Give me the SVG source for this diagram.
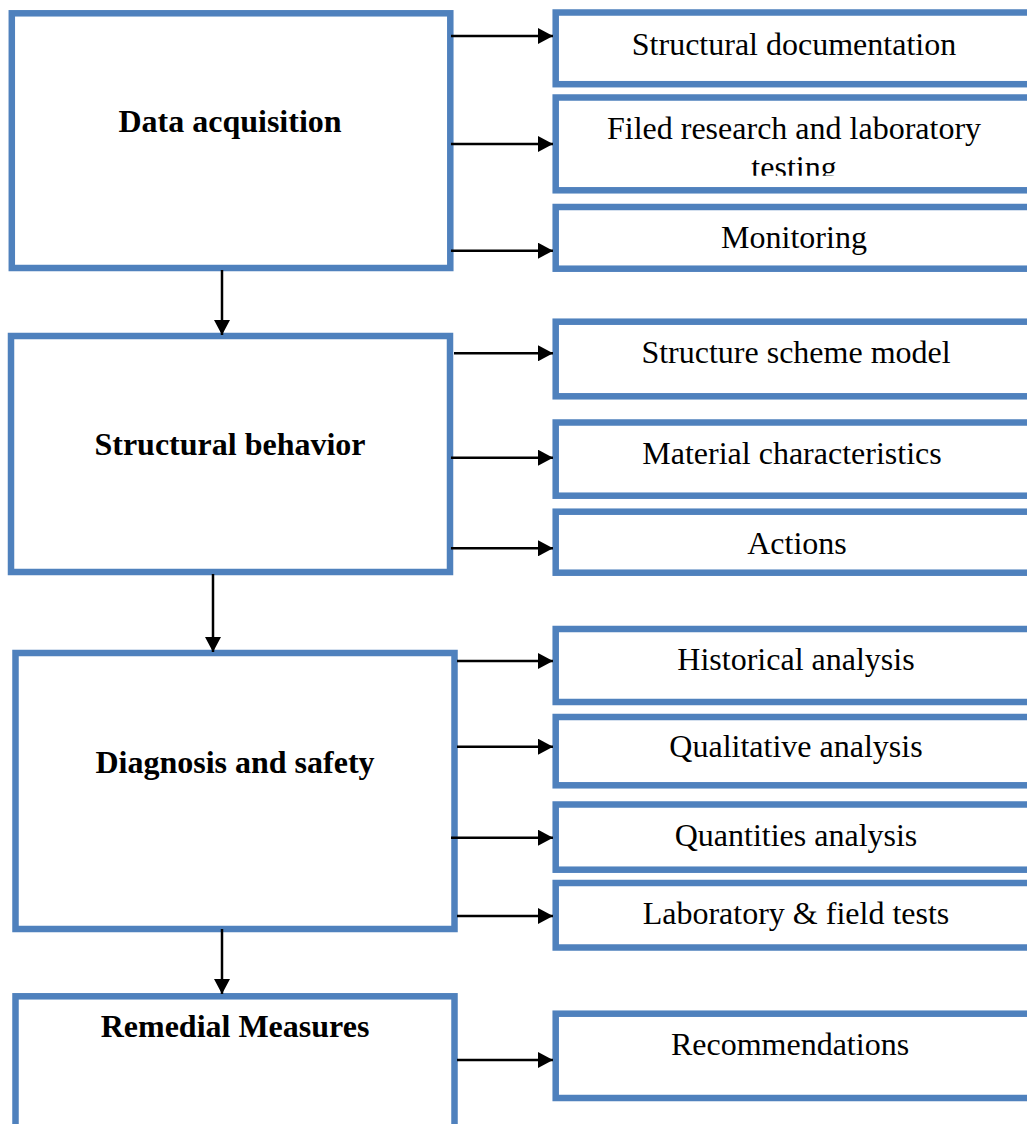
<svg xmlns="http://www.w3.org/2000/svg" width="1027" height="1124" viewBox="0 0 1027 1124">
<style>
.box{fill:#fff;stroke:#4F81BD;stroke-width:6.5}
.main{font-family:"Liberation Serif",serif;font-weight:bold;font-size:32px;text-anchor:middle;fill:#000}
.sub{font-family:"Liberation Serif",serif;font-size:32px;text-anchor:middle;fill:#000}
.conn{stroke:#000;stroke-width:2.5;fill:none;marker-end:url(#ah)}
</style>
<defs>
<marker id="ah" markerUnits="userSpaceOnUse" markerWidth="16" markerHeight="16" refX="15" refY="8" orient="auto">
<path d="M0,0 L15,8 L0,16 z" fill="#000"/>
</marker>
<clipPath id="clipR2"><rect x="560" y="100" width="470" height="75.7"/></clipPath>
</defs>
<rect width="1027" height="1124" fill="#fff"/>

<g id="n-data-acquisition">
<rect class="box" x="11.8" y="13.3" width="438.5" height="254.7"/>
<text class="main" x="230" y="132">Data acquisition</text>
</g>
<g id="n-structural-documentation">
<rect class="box" x="555.7" y="12.5" width="480" height="71.7"/>
<text class="sub" x="794" y="55">Structural documentation</text>
</g>
<g id="n-filed-research">
<rect class="box" x="555.7" y="97.5" width="480" height="92.8"/>
<g clip-path="url(#clipR2)">
<text class="sub" x="794" y="139.3">Filed research and laboratory</text>
<text class="sub" x="794" y="177.5">testing</text>
</g>
</g>
<g id="n-monitoring">
<rect class="box" x="555.7" y="207" width="480" height="61.7"/>
<text class="sub" x="794" y="248.3">Monitoring</text>
</g>

<g id="n-structural-behavior">
<rect class="box" x="11" y="336" width="439" height="236"/>
<text class="main" x="230" y="455">Structural behavior</text>
</g>
<g id="n-structure-scheme-model">
<rect class="box" x="555.7" y="321.7" width="480" height="74.6"/>
<text class="sub" x="796" y="363.3">Structure scheme model</text>
</g>
<g id="n-material-characteristics">
<rect class="box" x="555.7" y="422.5" width="480" height="73.2"/>
<text class="sub" x="792" y="464">Material characteristics</text>
</g>
<g id="n-actions">
<rect class="box" x="555.7" y="511.7" width="480" height="61"/>
<text class="sub" x="797" y="554">Actions</text>
</g>

<g id="n-diagnosis-and-safety">
<rect class="box" x="15.5" y="653" width="439" height="276"/>
<text class="main" x="235" y="772.7">Diagnosis and safety</text>
</g>
<g id="n-historical-analysis">
<rect class="box" x="555.7" y="629" width="480" height="73"/>
<text class="sub" x="796" y="670">Historical analysis</text>
</g>
<g id="n-qualitative-analysis">
<rect class="box" x="555.7" y="717" width="480" height="68.3"/>
<text class="sub" x="796" y="757.3">Qualitative analysis</text>
</g>
<g id="n-quantities-analysis">
<rect class="box" x="555.7" y="804.5" width="480" height="65.2"/>
<text class="sub" x="796" y="845.7">Quantities analysis</text>
</g>
<g id="n-lab-field-tests">
<rect class="box" x="555.7" y="883" width="480" height="64.5"/>
<text class="sub" x="796" y="924">Laboratory &amp; field tests</text>
</g>

<g id="n-remedial-measures">
<rect class="box" x="15.5" y="996.3" width="439" height="160"/>
<text class="main" x="235" y="1037.3">Remedial Measures</text>
</g>
<g id="n-recommendations">
<rect class="box" x="555.7" y="1013.7" width="480" height="84.3"/>
<text class="sub" x="790" y="1055">Recommendations</text>
</g>

<g id="connectors">
<line class="conn" x1="451" y1="36" x2="553" y2="36"/>
<line class="conn" x1="451" y1="144" x2="553" y2="144"/>
<line class="conn" x1="451" y1="250.7" x2="553" y2="250.7"/>
<line class="conn" x1="222" y1="270" x2="222" y2="335"/>
<line class="conn" x1="454" y1="353.3" x2="553" y2="353.3"/>
<line class="conn" x1="451" y1="457.7" x2="553" y2="457.7"/>
<line class="conn" x1="451" y1="548.3" x2="553" y2="548.3"/>
<line class="conn" x1="213" y1="574" x2="213" y2="652"/>
<line class="conn" x1="457" y1="661" x2="553" y2="661"/>
<line class="conn" x1="457" y1="746.7" x2="553" y2="746.7"/>
<line class="conn" x1="451" y1="837.7" x2="553" y2="837.7"/>
<line class="conn" x1="457" y1="916" x2="553" y2="916"/>
<line class="conn" x1="222" y1="929" x2="222" y2="994"/>
<line class="conn" x1="457" y1="1060" x2="553" y2="1060"/>
</g>
</svg>
